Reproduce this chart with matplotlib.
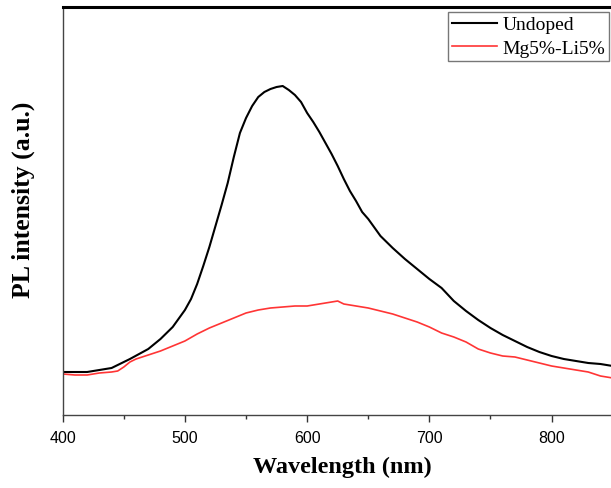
import matplotlib
matplotlib.use("Agg")
import matplotlib.pyplot as plt
from matplotlib.ticker import MultipleLocator

# Undoped spectrum (wavelength nm, PL intensity a.u.)
undoped_wl = [400, 420, 440, 455, 470, 480, 490, 500, 505, 510, 515, 520, 525, 530, 535,
              540, 545, 550, 555, 560, 565, 570, 575, 580, 585, 590, 595, 600, 605, 610,
              615, 620, 625, 630, 635, 640, 645, 650, 660, 670, 680, 690, 700, 710, 720,
              730, 740, 750, 760, 770, 780, 790, 800, 810, 820, 830, 840, 850]
undoped_int = [43, 43, 47, 56, 66, 76, 88, 105, 116, 131, 149, 168, 189, 210, 232,
               258, 282, 297, 309, 318, 323, 326, 328, 329, 325, 320, 313, 302, 293, 283,
               272, 261, 249, 236, 224, 214, 203, 196, 179, 167, 156, 146, 136, 127, 114,
               104, 95, 87, 80, 74, 68, 63, 59, 56, 54, 52, 51, 49]

# Mg5%-Li5% spectrum
doped_wl = [400, 410, 420, 430, 440, 445, 450, 455, 460, 470, 480, 490, 500, 510, 520,
            530, 540, 550, 560, 570, 580, 590, 600, 610, 620, 625, 630, 640, 650, 660,
            670, 680, 690, 700, 710, 720, 730, 740, 750, 760, 770, 780, 790, 800, 810,
            820, 830, 840, 850]
doped_int = [41, 40, 40, 42, 43, 44, 48, 53, 56, 60, 64, 69, 74, 81, 87,
             92, 97, 102, 105, 107, 108, 109, 109, 111, 113, 114, 111, 109, 107, 104,
             101, 97, 93, 88, 82, 78, 73, 66, 62, 59, 58, 55, 52, 49, 47,
             45, 43, 39, 37]

series_labels = ["Undoped", "Mg5%-Li5%"]
x_label = "Wavelength (nm)"
y_label = "PL intensity (a.u.)"

fig = plt.figure(figsize=(6.11, 4.89), dpi=100)
ax = fig.add_axes([62.7 / 611, 73 / 489, 550 / 611, 408 / 489])

ax.plot(undoped_wl, undoped_int, color="black", lw=1.5, label=series_labels[0])
ax.plot(doped_wl, doped_int, color="#ff3535", lw=1.2, label=series_labels[1])

ax.set_xlim(400, 850)
ax.set_ylim(0, 408)
ax.xaxis.set_major_locator(MultipleLocator(100))
ax.xaxis.set_minor_locator(MultipleLocator(50))
ax.set_yticks([])
ax.tick_params(axis="x", which="major", direction="out", length=5, width=1, pad=6,
               colors="#333333", labelcolor="black")
ax.tick_params(axis="x", which="minor", direction="out", length=3, width=1, colors="#333333")
for lbl in ax.get_xticklabels():
    lbl.set_fontfamily("Liberation Sans")
    lbl.set_fontsize(11.5)

for s in ["left", "bottom"]:
    ax.spines[s].set_color("#444444")
    ax.spines[s].set_linewidth(1.0)
ax.spines["top"].set_color("black")
ax.spines["top"].set_linewidth(2.2)
ax.spines["right"].set_visible(False)

fig.text(342 / 611, 1 - 467 / 489, x_label, ha="center", va="center",
         fontfamily="Liberation Serif", fontweight="bold", fontsize=17.5)
fig.text(23 / 611, 1 - 200 / 489, y_label, ha="center", va="center", rotation=90,
         fontfamily="Liberation Serif", fontweight="bold", fontsize=18.5)

leg = ax.legend(loc="upper right", bbox_to_anchor=(609 / 611, 1 - 13 / 489),
                bbox_transform=fig.transFigure, borderaxespad=0,
                prop={"family": "Liberation Serif", "size": 14},
                fancybox=False, frameon=True, handlelength=2.3, handletextpad=0.3,
                labelspacing=0.3, borderpad=0.2)
leg.get_frame().set_edgecolor("#555555")
leg.get_frame().set_linewidth(1.0)

fig.savefig("out.png", dpi=100)
